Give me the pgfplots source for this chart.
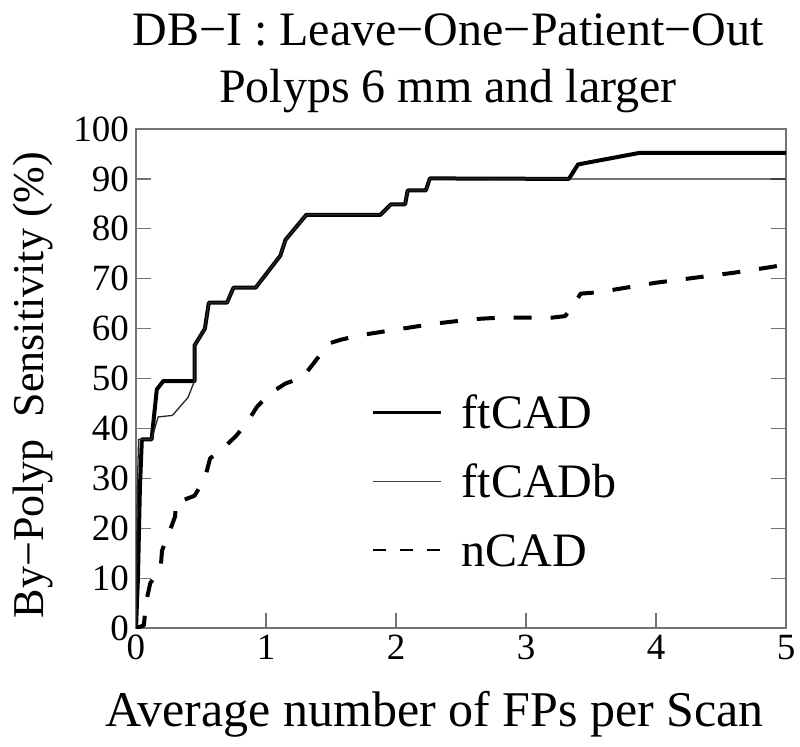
\documentclass[border=0pt]{standalone}
\usepackage{fontspec}
\setmainfont{Liberation Serif}
\usepackage{pgfplots}
\pgfplotsset{compat=1.18}
\begin{document}
\begin{tikzpicture}
\begin{axis}[
  width=325pt, height=249.5pt, scale only axis,
  xmin=0, xmax=5, ymin=0, ymax=100,
  xtick={0,1,2,3,4,5}, ytick={0,10,...,100},
  xtick pos=left, ytick pos=both,
  tick align=inside,
  major tick length=7.5pt,
  axis line style={black!55, line width=0.6pt},
  every tick/.style={black!55, line width=0.6pt},
  /pgf/number format/assume math mode=true,
  tick label style={font=\fontsize{18.5}{19}\selectfont, black},
  title={DB−I : Leave−One−Patient−Out\\Polyps 6 mm and larger},
  title style={align=center, font=\fontsize{24}{28.5}\selectfont, at={(0.48,1)}, anchor=south, inner sep=0pt, yshift=2pt},
  xlabel={Average number of FPs per Scan},
  xlabel style={font=\fontsize{25}{25}\selectfont, at={(axis description cs:0.459,-0.198)}, anchor=base, inner sep=0pt},
  ylabel={By−Polyp\ \ Sensitivity (\%)},
  ylabel style={font=\fontsize{22}{22}\selectfont, at={(axis description cs:-0.1418,0.487)}, anchor=base, inner sep=0pt},
  legend style={at={(axis cs:1.81,46.5)}, anchor=north west, draw=none, fill=none,
    font=\fontsize{24}{24}\selectfont, inner sep=0pt, row sep=18.5pt, column sep=9.5pt,
    nodes={inner sep=0pt, text height=16pt, text depth=0pt}},
  legend cell align=left,
]
\addplot[black, line width=2pt, line join=round,
  legend image code/.code={\draw[black, line width=1.6pt] (0pt,0pt) -- (34pt,0pt);}]
coordinates {
(0,0) (0.015,10) (0.03,28) (0.045,37.8) (0.12,37.8) (0.16,47.8) (0.21,49.5)
(0.45,49.5) (0.45,56.6) (0.53,60) (0.56,65.2) (0.70,65.2) (0.75,68.2) (0.92,68.2)
(1.11,74.6) (1.15,77.8) (1.31,82.8) (1.88,82.8) (1.96,84.9) (2.07,84.9) (2.09,87.7)
(2.23,87.7) (2.26,90.1) (3.33,90) (3.40,92.9) (3.87,95.2) (5,95.2)
};
\addlegendentry{ftCAD}
\addplot[black!85, line width=0.65pt, line join=round,
  legend image code/.code={\draw[black!75, line width=0.6pt] (0pt,0pt) -- (34pt,0pt);}]
coordinates {
(0,0) (0.01,28) (0.02,37.8) (0.12,37.8) (0.17,42.3) (0.28,42.6) (0.40,46.2) (0.45,49.5)
(0.45,56.6) (0.53,60) (0.56,65.2) (0.70,65.2) (0.75,68.2) (0.92,68.2)
(1.11,74.6) (1.15,77.8) (1.31,82.8) (1.88,82.8) (1.96,84.9) (2.07,84.9) (2.09,87.7)
(2.23,87.7) (2.26,90.1) (3.33,90) (5,90)
};
\addlegendentry{ftCADb}
\addplot[black, line width=2pt, dash pattern=on 9pt off 9.5pt, line join=round,
  legend image code/.code={\draw[black, line width=1pt, dash pattern=on 6.5pt off 7pt] (0pt,0pt) -- (34pt,0pt);}]
coordinates {
(0,0) (0.06,0.5) (0.08,5.5) (0.11,9) (0.19,12) (0.20,15.5) (0.25,18.8) (0.30,22.3)
(0.31,25.5) (0.35,25.5) (0.45,26.5) (0.53,30) (0.57,34) (0.67,36) (0.77,38.5)
(0.85,41) (0.93,44.3) (1.03,47) (1.15,49) (1.28,50.2) (1.38,53.5) (1.48,57)
(1.58,57.8) (1.73,58.7) (2.0,59.8) (2.3,61) (2.6,61.9) (2.8,62.2) (3.2,62.2)
(3.3,62.5) (3.35,64) (3.42,67) (3.56,67.3) (3.70,67.9) (4.0,69.2) (4.3,70.2)
(4.6,71.2) (4.9,72.4) (4.96,72.7)
};
\addlegendentry{nCAD}
\end{axis}
\pgfresetboundingbox
\path[use as bounding box] ([xshift=-68pt,yshift=-59pt]current axis.south west) rectangle ([xshift=7pt,yshift=64.5pt]current axis.north east);
\end{tikzpicture}
\end{document}
